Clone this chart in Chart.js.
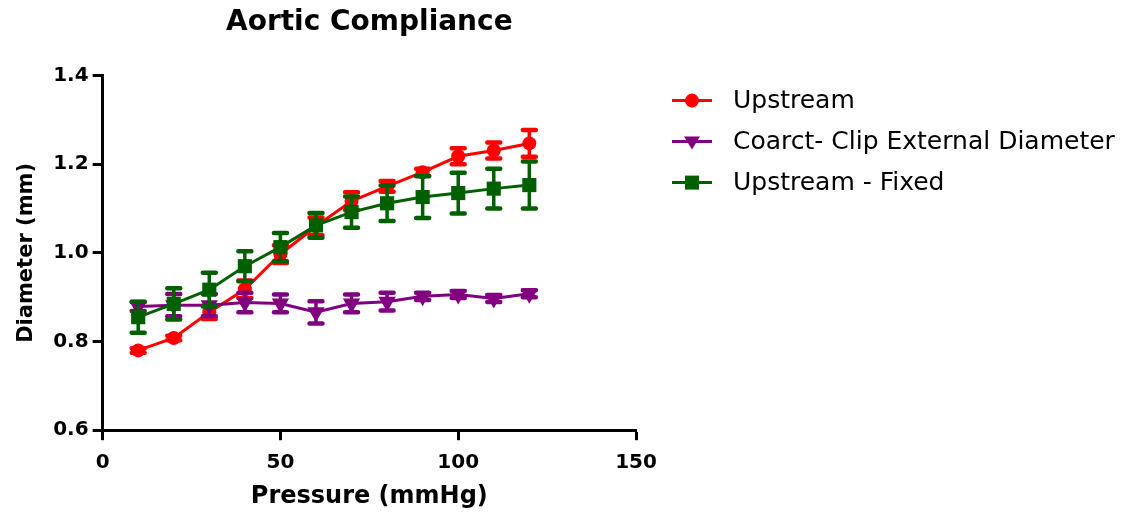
<!DOCTYPE html>
<html><head><meta charset="utf-8">
<script src="https://cdn.jsdelivr.net/npm/chart.js@4.4.1/dist/chart.umd.min.js"></script>
<style>html,body{margin:0;padding:0;background:#fff;}</style>
</head><body>
<canvas id="c" width="1142" height="518"></canvas>
<script>
// ---- data ----
const pressure = [10, 20, 30, 40, 50, 60, 70, 80, 90, 100, 110, 120];
const upstream    = [0.780, 0.808, 0.866, 0.918, 0.997, 1.060, 1.117, 1.150, 1.182, 1.218, 1.231, 1.247];
const upstreamErr = [0.005, 0.005, 0.015, 0.020, 0.020, 0.020, 0.020, 0.012, 0.008, 0.018, 0.018, 0.030];
const coarct      = [0.879, 0.882, 0.882, 0.888, 0.886, 0.866, 0.886, 0.890, 0.902, 0.906, 0.897, 0.908];
const coarctErr   = [0.010, 0.025, 0.025, 0.022, 0.020, 0.025, 0.020, 0.020, 0.008, 0.008, 0.008, 0.008];
const fixed       = [0.855, 0.885, 0.917, 0.970, 1.013, 1.062, 1.092, 1.112, 1.126, 1.135, 1.145, 1.153];
const fixedErr    = [0.035, 0.035, 0.038, 0.034, 0.032, 0.028, 0.035, 0.040, 0.047, 0.046, 0.045, 0.053];
const xTicks = [0, 50, 100, 150];
const yTicks = [0.6, 0.8, 1.0, 1.2, 1.4];
const seriesNames = ['Upstream', 'Coarct- Clip External Diameter', 'Upstream - Fixed'];
const seriesColors = ['#ff0000', '#800080', '#006000'];
const seriesStyles = ['circle', 'triangleDown', 'rect'];

const FONT = "'DejaVu Sans', 'Liberation Sans', sans-serif";

function pts(ys) { return pressure.map((x, i) => ({x: x, y: ys[i]})); }

function drawMarker(ctx, style, x, y, color) {
  ctx.fillStyle = color;
  ctx.beginPath();
  if (style === 'circle') { ctx.arc(x, y, 7, 0, Math.PI * 2); }
  else if (style === 'rect') { ctx.rect(x - 7, y - 7, 14, 14); }
  else { ctx.moveTo(x - 8, y - 5); ctx.lineTo(x + 8, y - 5); ctx.lineTo(x, y + 8); ctx.closePath(); }
  ctx.fill();
}

const errorBars = {
  id: 'errorBars',
  beforeDatasetDraw(chart, args) {
    const ds = chart.data.datasets[args.index];
    const errs = ds.errors;
    if (!errs) return;
    const xs = chart.scales.x, ys = chart.scales.y, ctx = chart.ctx;
    ctx.save();
    ctx.strokeStyle = ds.borderColor;
    ctx.lineCap = 'round';
    ds.data.forEach((p, i) => {
      const e = errs[i];
      if (!e) return;
      const px = xs.getPixelForValue(p.x);
      const top = ys.getPixelForValue(p.y + e), bot = ys.getPixelForValue(p.y - e);
      ctx.lineWidth = 3.5;
      ctx.beginPath(); ctx.moveTo(px, top); ctx.lineTo(px, bot); ctx.stroke();
      ctx.lineWidth = 4.5;
      ctx.beginPath();
      ctx.moveTo(px - 6.5, top); ctx.lineTo(px + 6.5, top);
      ctx.moveTo(px - 6.5, bot); ctx.lineTo(px + 6.5, bot);
      ctx.stroke();
    });
    ctx.restore();
  }
};

// legend drawn beside the plot area (line + marker + label)
const sideLegend = {
  id: 'sideLegend',
  afterDraw(chart) {
    const ctx = chart.ctx, area = chart.chartArea;
    ctx.save();
    ctx.font = "25px " + FONT;
    ctx.textBaseline = 'middle';
    ctx.textAlign = 'left';
    chart.data.datasets.forEach((ds, i) => {
      const y = area.top + 25 + i * 41;
      const x0 = area.right + 36;
      ctx.strokeStyle = ds.borderColor; ctx.lineWidth = 3;
      ctx.beginPath(); ctx.moveTo(x0, y); ctx.lineTo(x0 + 40, y); ctx.stroke();
      drawMarker(ctx, seriesStyles[i], x0 + 20, y, ds.borderColor);
      ctx.fillStyle = '#000';
      ctx.fillText(ds.label, x0 + 61, y + 1);
    });
    ctx.restore();
  }
};

function makeDataset(i, values, errs, order) {
  const st = seriesStyles[i];
  return {
    label: seriesNames[i],
    data: pts(values),
    errors: errs,
    borderColor: seriesColors[i],
    backgroundColor: seriesColors[i],
    pointBackgroundColor: seriesColors[i],
    pointBorderColor: seriesColors[i],
    pointBorderWidth: 0,
    borderWidth: 3,
    pointStyle: st === 'triangleDown' ? 'triangle' : st,
    rotation: st === 'triangleDown' ? 180 : 0,
    pointRadius: st === 'rect' ? 10 : (st === 'circle' ? 7 : 10),
    pointHoverRadius: st === 'rect' ? 10 : 7,
    tension: 0,
    order: order,
    clip: false
  };
}

const axisCommon = {
  type: 'linear',
  border: {display: true, color: '#000', width: 3},
  grid: {display: true, drawOnChartArea: false, drawTicks: true, tickLength: 10, tickWidth: 3, tickColor: '#000'}
};

new Chart(document.getElementById('c'), {
  type: 'line',
  data: {
    datasets: [
      makeDataset(0, upstream, upstreamErr, 2),
      makeDataset(1, coarct, coarctErr, 1),
      makeDataset(2, fixed, fixedErr, 0)
    ]
  },
  options: {
    responsive: false,
    animation: false,
    layout: {padding: {left: 14, right: 506, top: 0, bottom: 7}},
    scales: {
      x: Object.assign({}, axisCommon, {
        min: 0, max: 150,
        afterBuildTicks: (s) => { s.ticks = xTicks.map(v => ({value: v})); },
        ticks: {color: '#000', padding: 11, font: {family: FONT, size: 20, weight: 'bold'}},
        title: {display: true, text: 'Pressure (mmHg)', color: '#000', padding: {top: -4, bottom: 0},
                font: {family: FONT, size: 24, weight: 'bold'}}
      }),
      y: Object.assign({}, axisCommon, {
        min: 0.6, max: 1.4,
        afterBuildTicks: (s) => { s.ticks = yTicks.map(v => ({value: v})); },
        ticks: {color: '#000', padding: 4, font: {family: FONT, size: 20, weight: 'bold'},
                callback: (v) => Number(v).toFixed(1)},
        title: {display: true, text: 'Diameter (mm)', color: '#000', padding: {top: 0, bottom: 10},
                font: {family: FONT, size: 21, weight: 'bold'}}
      })
    },
    plugins: {
      title: {display: true, fullSize: false, text: 'Aortic Compliance', color: '#000',
              font: {family: FONT, size: 28, weight: 'bold'}, padding: {top: 6, bottom: 36}},
      legend: {display: false},
      tooltip: {enabled: false}
    }
  },
  plugins: [errorBars, sideLegend]
});
</script>
</body></html>
